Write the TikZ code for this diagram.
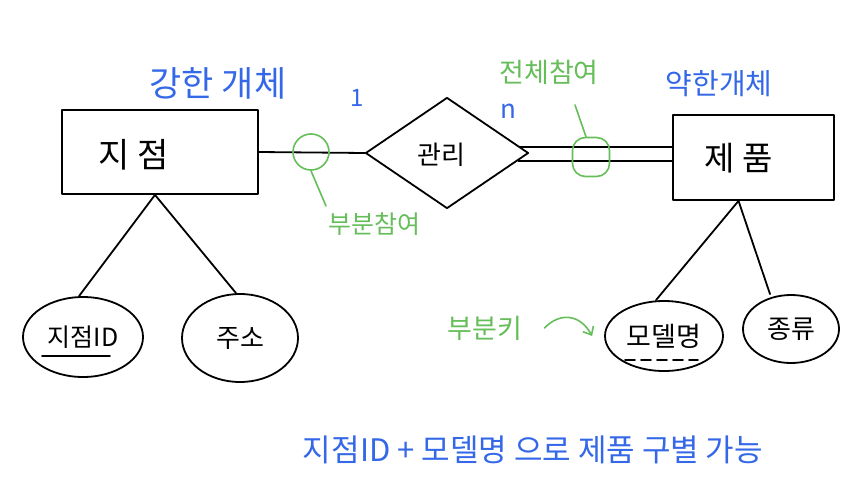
\documentclass[tikz,border=0pt]{standalone}
\usepackage{fontspec}
\setmainfont{Noto Sans CJK KR}
\usetikzlibrary{shapes.geometric,calc,arrows.meta}
\definecolor{inkblue}{HTML}{3468E8}
\definecolor{inkgreen}{HTML}{66BE5A}
\newcommand{\fsz}[1]{\fontsize{#1}{#1}\selectfont}
\begin{document}
\begin{tikzpicture}[x=1pt,y=-1pt,
  ink/.style={line width=1.8pt, line cap=round, line join=round},
  entity/.style={ink, draw, rectangle, inner sep=0},
  attr/.style={ink, draw, ellipse, inner sep=0},
  blbl/.style={inner sep=0, text=inkblue},
  glbl/.style={inner sep=0, text=inkgreen},
  txt/.style={inner sep=0},
  gmark/.style={draw=inkgreen, line width=1.6pt, line cap=round},
  ]
\fill[white] (0,0) rectangle (842,492);
\useasboundingbox (0,0) rectangle (842,492);

% entities
\node[entity, minimum width=196pt, minimum height=84pt] (jijeom) at (160,152) {};
\node[txt, font=\fsz{34}] (jijeomtxt) at (134,155) {지 점};
\node[entity, minimum width=161pt, minimum height=85pt] (jepum) at (753.5,157.5) {};
\node[txt, font=\fsz{33}] (jepumtxt) at (739,158) {제 품};

% relationship
\node[ink, draw, diamond, minimum width=163pt, minimum height=111pt, inner sep=0] (gwanri) at (447,153) {};
\node[txt, font=\fsz{26}] (gwanritxt) at (441,155) {관리};

% attributes
\node[attr, minimum width=120pt, minimum height=80pt, font=\fsz{25}] (jid) at (83,337) {지점ID};
\node[attr, minimum width=116pt, minimum height=88pt, font=\fsz{26}] (juso) at (240,338) {주소};
\node[attr, minimum width=118pt, minimum height=70pt, font=\fsz{27}] (model) at (664,336) {모델명};
\node[attr, minimum width=96pt, minimum height=68pt, font=\fsz{26}] (jongryu) at (791,329) {종류};

% key underlines
\draw[ink] ($(jid.center)+(-41,19)$) -- ($(jid.center)+(27,19)$);
\draw[ink, dash pattern=on 10pt off 6pt] ($(model.center)+(-39,24)$) -- ($(model.center)+(34,24)$);

% connectors
\draw[ink] (jijeom.east) -- (gwanri.west);
\draw[ink] ($(gwanri.east)+(-9,-6)$) -- ($(gwanri.east -| jepum.west)+(0,-6)$);
\draw[ink] ($(gwanri.east)+(-11,8)$) -- ($(gwanri.east -| jepum.west)+(0,8)$);
\draw[ink] ([xshift=-5pt]jijeom.south) -- ([xshift=-4pt]jid.north);
\draw[ink] ([xshift=-5pt]jijeom.south) -- ([xshift=-4pt]juso.north);
\draw[ink] ([xshift=-15pt]jepum.south) -- ([xshift=-8pt]model.north);
\draw[ink] ([xshift=-15pt]jepum.south) -- ([xshift=-21pt]jongryu.north);

% cardinalities
\node[blbl, font=\fsz{24}] (one) at (357,98) {1};
\node[blbl, font=\fsz{26}] (en) at (508,111) {n};

% entity type labels
\node[blbl, font=\fsz{35}] (strong) at (218,83) {강한 개체};
\node[blbl, font=\fsz{29}] (weak) at (719,84) {약한개체};

% participation marks
\node[gmark, circle, minimum size=36pt, inner sep=0] (c1) at (311,152) {};
\node[glbl, font=\fsz{25}] (partial) at (374,224) {부분참여};
\coordinate (c1end) at (326,206);
\draw[gmark] (c1.south) -- (c1end);

\node[gmark, rectangle, rounded corners=13pt, minimum width=37pt, minimum height=39pt, inner sep=0] (c2) at (591,157) {};
\node[glbl, font=\fsz{27}] (total) at (549,72) {전체참여};
\coordinate (c2end) at (575,105);
\draw[gmark] ([xshift=-5pt]c2.north) -- (c2end);

% partial key
\node[glbl, font=\fsz{27}] (pkey) at (485,328) {부분키};
\draw[gmark, -{Straight Barb[length=7pt,width=12pt]}] ([xshift=22pt]pkey.east) .. controls (560,312) and (580,314) .. ([xshift=-12pt]model.west);

% note
\node[blbl, font=\fsz{31}] (note) at (533,450) {지점ID + 모델명 으로 제품 구별 가능};
\end{tikzpicture}
\end{document}
